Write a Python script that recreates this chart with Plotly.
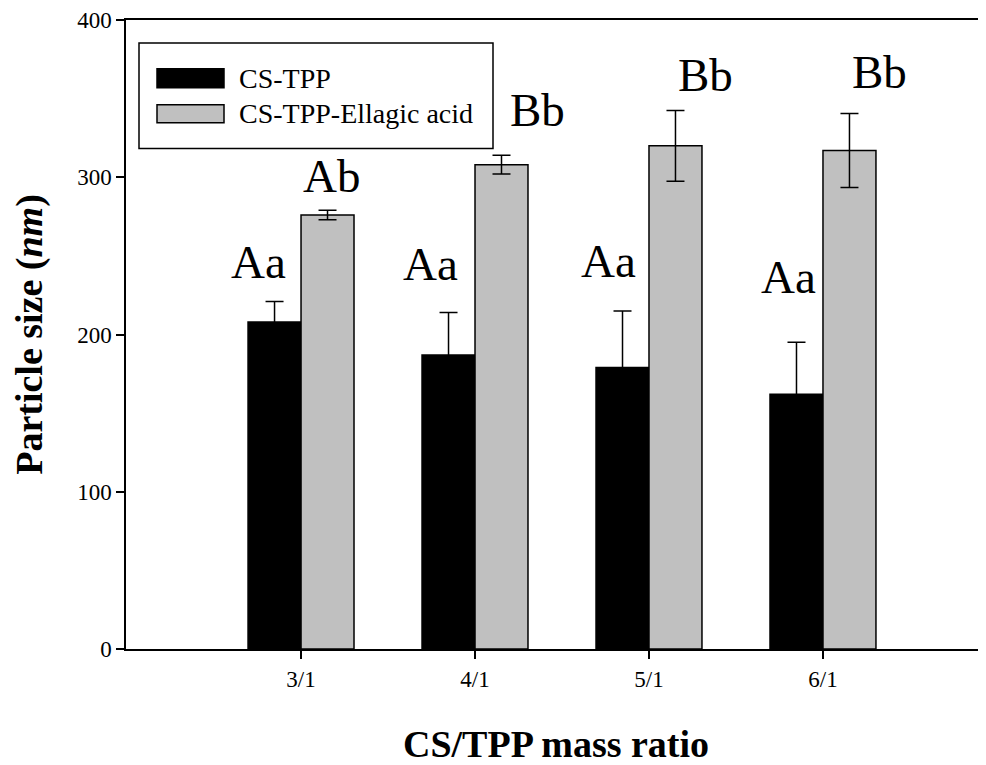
import plotly.graph_objects as go

# ---- data ----
ratios = ["3/1", "4/1", "5/1", "6/1"]
cs_tpp = [208, 187, 179, 162]
cs_tpp_err = [13, 27, 36, 33]
cs_tpp_ea = [276, 308, 320, 317]
cs_tpp_ea_err = [3, 6, 22.5, 23.5]
labels_black = ["Aa", "Aa", "Aa", "Aa"]
labels_gray = ["Ab", "Bb", "Bb", "Bb"]
series_names = ["CS-TPP", "CS-TPP-Ellagic acid"]

# ---- label placement (style) ----
lab_black_dx = [-43, -45, -40, -34]          # px offset from category centre
lab_black_y = [235, 234, 236, 226]           # baseline height in axis units
lab_gray_dx = [30, 62, 57, 57]
lab_gray_y = [290, 332, 354, 356]

FONT = "Liberation Serif"
GRAY = "#C0C0C0"

fig = go.Figure()
fig.add_trace(go.Bar(
    x=ratios, y=cs_tpp, name=series_names[0],
    marker=dict(color="black", line=dict(color="black", width=1.5)),
    error_y=dict(type="data", array=cs_tpp_err, visible=True,
                 color="black", thickness=1.5, width=9),
))
fig.add_trace(go.Bar(
    x=ratios, y=cs_tpp_ea, name=series_names[1],
    marker=dict(color=GRAY, line=dict(color="black", width=1.5)),
    error_y=dict(type="data", array=cs_tpp_ea_err, visible=True,
                 color="black", thickness=1.5, width=9),
))

annotations = []
for i, r in enumerate(ratios):
    annotations.append(dict(x=r, y=lab_black_y[i], xref="x", yref="y",
                            text=labels_black[i], showarrow=False,
                            xshift=lab_black_dx[i], yanchor="bottom", yshift=-11,
                            font=dict(family=FONT, size=47, color="black")))
    annotations.append(dict(x=r, y=lab_gray_y[i], xref="x", yref="y",
                            text=labels_gray[i], showarrow=False,
                            xshift=lab_gray_dx[i], yanchor="bottom", yshift=-11,
                            font=dict(family=FONT, size=47, color="black")))

# page body has an 8px margin: figure is placed at (8, 8)
OFF = 8
L, PW, T, PH = 126, 860, 18, 631   # plot area in page pixels
def px(xp):
    return (xp - L) / PW
def py(yp):
    return (T + PH - yp) / PH

shapes = [
    dict(type="rect", xref="paper", yref="paper",
         x0=px(139), x1=px(493), y0=py(147), y1=py(41),
         line=dict(color="black", width=1.5), fillcolor="white", layer="above"),
    dict(type="rect", xref="paper", yref="paper",
         x0=px(157), x1=px(224), y0=py(86), y1=py(67),
         line=dict(color="black", width=1.5), fillcolor="black", layer="above"),
    dict(type="rect", xref="paper", yref="paper",
         x0=px(157), x1=px(224), y0=py(121), y1=py(103),
         line=dict(color="black", width=1.5), fillcolor=GRAY, layer="above"),
]
annotations.append(dict(x=px(237), y=py(77), xref="paper", yref="paper",
                        text=series_names[0], showarrow=False, xanchor="left",
                        yanchor="middle", font=dict(family=FONT, size=28, color="black")))
annotations.append(dict(x=px(237), y=py(112), xref="paper", yref="paper",
                        text=series_names[1], showarrow=False, xanchor="left",
                        yanchor="middle", font=dict(family=FONT, size=28, color="black")))

fig.update_layout(
    width=986 - OFF, height=765 - OFF,
    margin=dict(l=L - OFF, r=0, t=T - OFF, b=765 - (T + PH)),
    barmode="group", bargap=0.391, bargroupgap=0,
    showlegend=False,
    plot_bgcolor="white", paper_bgcolor="white",
    font=dict(family=FONT, color="black"),
    shapes=shapes, annotations=annotations,
    xaxis=dict(
        type="category", range=[-1.006, 3.937],
        showline=True, linecolor="black", linewidth=2, mirror=True,
        ticks="outside", ticklen=8, tickwidth=1.5, tickcolor="black",
        tickfont=dict(family=FONT, size=23, color="black"),
        ticklabeloverflow="allow",
        showgrid=False, zeroline=False,
        title=dict(text="<b>CS/TPP mass ratio</b>", standoff=42,
                   font=dict(family=FONT, size=38, color="black")),
    ),
    yaxis=dict(
        range=[0, 400], dtick=100,
        showline=True, linecolor="black", linewidth=1.5, mirror=False,
        ticks="outside", ticklen=8, tickwidth=1.5, tickcolor="black",
        tickfont=dict(family=FONT, size=23, color="black"),
        ticklabeloverflow="allow",
        showgrid=False, zeroline=False,
        title=dict(text="<b>Particle size (<i>nm</i>)</b>", standoff=25,
                   font=dict(family=FONT, size=38, color="black")),
    ),
)

fig.write_html("out.html")
